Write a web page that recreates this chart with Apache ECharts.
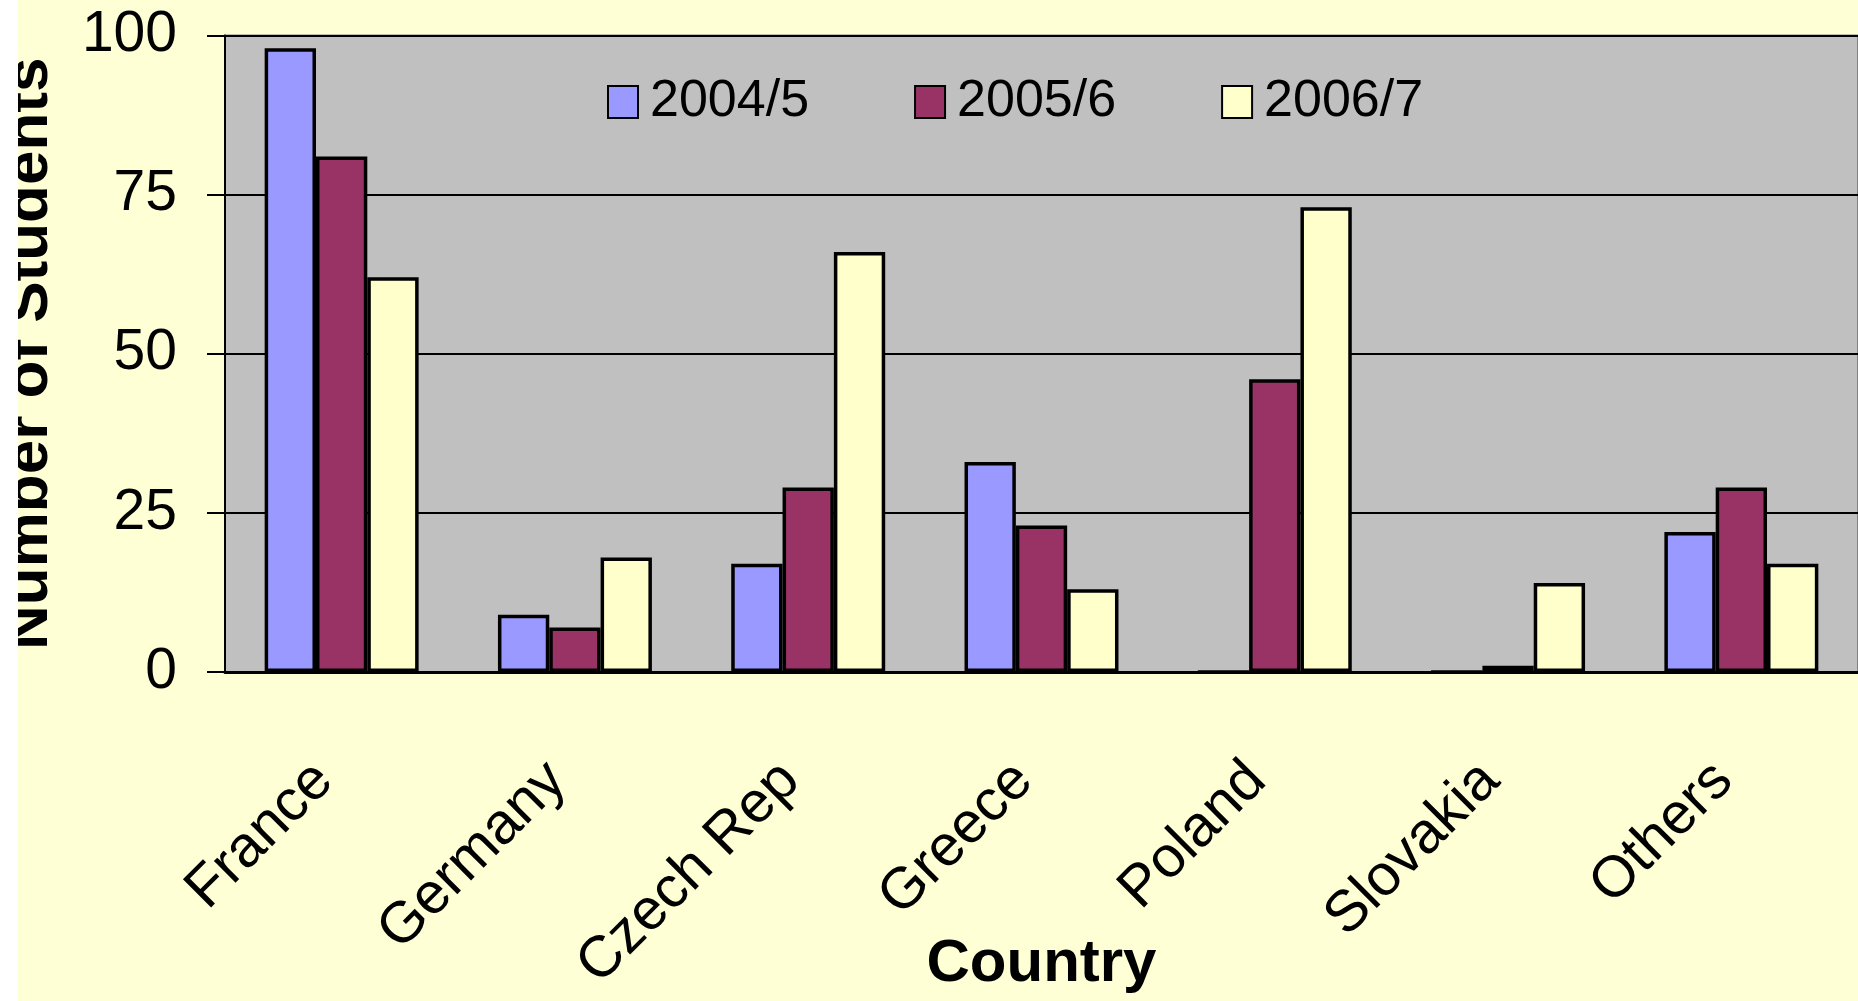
<!DOCTYPE html>
<html>
<head>
<meta charset="utf-8">
<title>Number of Students by Country</title>
<script src="https://cdn.jsdelivr.net/npm/echarts@6/dist/echarts.min.js"></script>
<style>
  html, body { margin: 0; padding: 0; background: #ffffff; overflow: hidden; }
  #chart { position: absolute; left: 18px; top: 0; width: 1840px; height: 1001px; }
</style>
</head>
<body>
<div id="chart"></div>
<script>
// Countries along the x axis
const countries = ['France', 'Germany', 'Czech Rep', 'Greece', 'Poland', 'Slovakia', 'Others'];

// Students per country, one array per academic year
const year2004 = [98, 9, 17, 33, 0, 0, 22];
const year2005 = [81, 7, 29, 23, 46, 1, 29];
const year2006 = [62, 18, 66, 13, 73, 14, 17];

const seriesNames = ['2004/5', '2005/6', '2006/7'];
const seriesColors = ['#9999FF', '#993366', '#FFFFCC'];

// Value axis
const yMin = 0;
const yMax = 100;
const yStep = 25;

const baseFont = "'Liberation Sans', Arial, sans-serif";

const chart = echarts.init(document.getElementById('chart'));

const makeSeries = (name, data, color) => ({
  name: name,
  type: 'bar',
  data: data,
  barGap: '0%',
  barCategoryGap: '34%',
  itemStyle: { color: color, borderColor: '#000000', borderWidth: 3.5 },
  emphasis: { disabled: true }
});

chart.setOption({
  backgroundColor: '#FFFFD6',
  animation: false,
  legend: {
    data: seriesNames,
    icon: 'rect',
    left: 589,
    top: 76,
    padding: 0,
    itemWidth: 30,
    itemHeight: 32,
    itemGap: 105,
    textStyle: { fontFamily: baseFont, fontSize: 52, color: '#000000', padding: [0, 0, 0, 7] }
  },
  grid: {
    left: 207,
    right: 0,
    top: 35.5,
    bottom: 329,
    outerBoundsMode: 'none',
    containLabel: false,
    show: true,
    backgroundColor: '#C0C0C0',
    borderColor: '#808080',
    borderWidth: 2
  },
  xAxis: {
    type: 'category',
    data: countries,
    name: 'Country',
    nameLocation: 'middle',
    nameGap: 262,
    nameMoveOverlap: false,
    nameTextStyle: { fontFamily: baseFont, fontWeight: 'bold', fontSize: 60, color: '#000000' },
    axisLine: { lineStyle: { color: '#000000', width: 3 } },
    axisTick: { length: 20, lineStyle: { color: '#000000', width: 2 } },
    axisLabel: {
      rotate: 45,
      margin: 82,
      interval: 0,
      padding: [0, 25, 0, 0],
      fontFamily: baseFont,
      fontSize: 58,
      color: '#000000'
    }
  },
  yAxis: {
    type: 'value',
    min: yMin,
    max: yMax,
    interval: yStep,
    name: 'Number of Students',
    nameLocation: 'middle',
    nameGap: 164,
    nameRotate: 90,
    nameMoveOverlap: false,
    nameTextStyle: { fontFamily: baseFont, fontWeight: 'bold', fontSize: 62, color: '#000000' },
    axisLine: { show: true, lineStyle: { color: '#000000', width: 2 } },
    axisTick: { show: true, length: 18, lineStyle: { color: '#000000', width: 2 } },
    axisLabel: {
      margin: 48,
      fontFamily: baseFont,
      fontSize: 57,
      color: '#000000'
    },
    splitLine: { lineStyle: { color: '#000000', width: 2 } }
  },
  series: [
    makeSeries(seriesNames[0], year2004, seriesColors[0]),
    makeSeries(seriesNames[1], year2005, seriesColors[1]),
    makeSeries(seriesNames[2], year2006, seriesColors[2])
  ]
});
</script>
</body>
</html>
